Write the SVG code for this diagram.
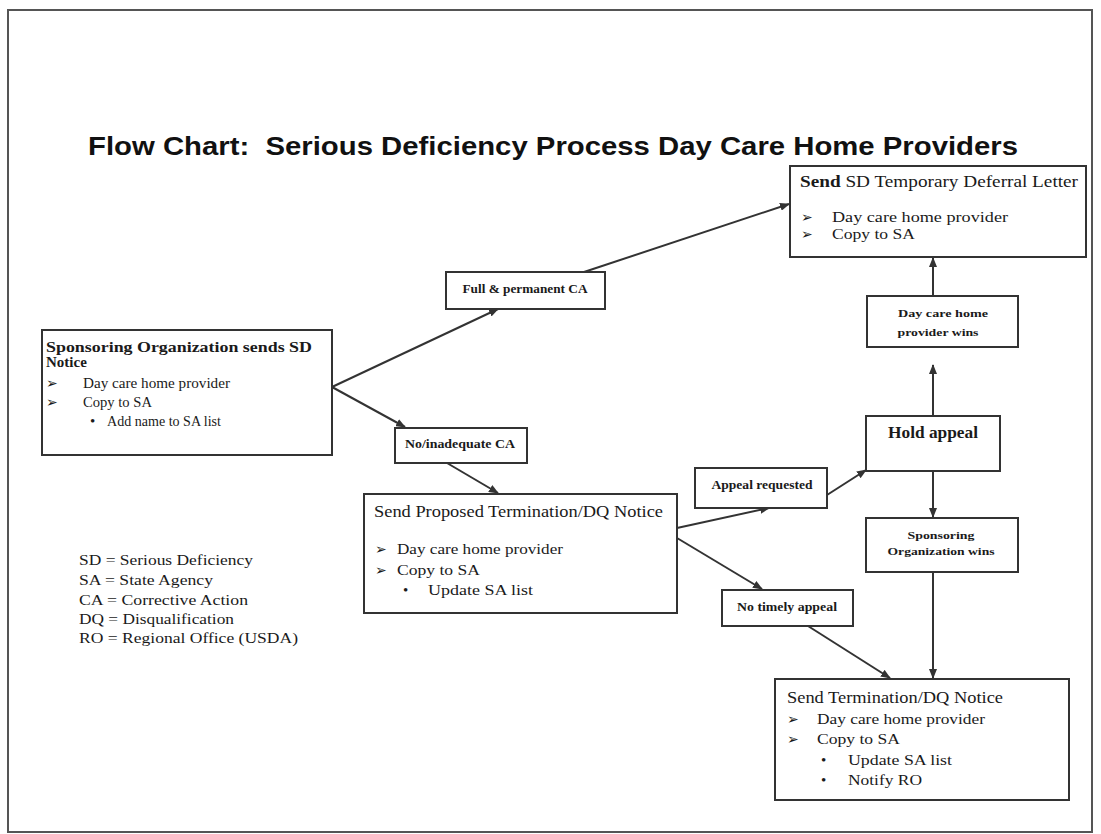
<svg xmlns="http://www.w3.org/2000/svg" width="1101" height="834" viewBox="0 0 1101 834">
<style>
.bg{fill:#fff}
.frame{fill:none;stroke:#555;stroke-width:2}
.box{fill:#fff;stroke:#333;stroke-width:2}
.t{font-family:"Liberation Serif",serif;fill:#1a1a1a;font-size:15px}
.b{font-weight:bold}
.h{font-size:16px}
.s{font-size:12px;font-weight:bold}
.xs{font-size:11px;font-weight:bold}
.sym{font-family:"DejaVu Sans",sans-serif;font-size:14px;fill:#1a1a1a}
.title{font-family:"Liberation Sans",Arial,sans-serif;font-weight:bold;font-size:25px;fill:#111;white-space:pre}
.conn line{stroke:#333;stroke-width:2;marker-end:url(#ah)}
</style>
<defs>
<marker id="ah" markerWidth="10" markerHeight="8" refX="9" refY="4" orient="auto" markerUnits="userSpaceOnUse">
<path d="M0,0 L10,4 L0,8 z" fill="#333"/>
</marker>
</defs>
<rect class="bg" x="0" y="0" width="1101" height="834"/>
<rect class="frame" x="8" y="10" width="1084" height="822"/>
<text class="title" x="88" y="155" textLength="930" lengthAdjust="spacingAndGlyphs">Flow Chart:  Serious Deficiency Process Day Care Home Providers</text>

<g id="connectors" class="conn">
<line x1="332" y1="387" x2="498" y2="309"/>
<line x1="584" y1="272" x2="789" y2="204"/>
<line x1="332" y1="387" x2="405" y2="427"/>
<line x1="447" y1="463" x2="498" y2="493"/>
<line x1="677" y1="528" x2="769" y2="508"/>
<line x1="827" y1="495" x2="866" y2="470"/>
<line x1="677" y1="538" x2="762" y2="589"/>
<line x1="808" y1="626" x2="890" y2="678"/>
<line x1="933" y1="416" x2="933" y2="365"/>
<line x1="933" y1="296" x2="933" y2="258"/>
<line x1="933" y1="471" x2="933" y2="517"/>
<line x1="933" y1="572" x2="933" y2="678"/>
</g>

<g id="sponsor-sends">
<rect class="box" x="42" y="330" width="290" height="125"/>
<text class="t b" x="46" y="352" textLength="266" lengthAdjust="spacingAndGlyphs">Sponsoring Organization sends SD</text>
<text class="t b" x="46" y="367">Notice</text>
<text class="sym" x="46" y="388">➢</text>
<text class="t" x="83" y="388" textLength="147" lengthAdjust="spacingAndGlyphs">Day care home provider</text>
<text class="sym" x="46" y="407">➢</text>
<text class="t" x="83" y="407" textLength="69" lengthAdjust="spacingAndGlyphs">Copy to SA</text>
<text class="t" x="90" y="426">•</text>
<text class="t" x="107" y="426" textLength="114" lengthAdjust="spacingAndGlyphs">Add name to SA list</text>
</g>

<g id="full-ca">
<rect class="box" x="446" y="272" width="159" height="37"/>
<text class="t s" x="525" y="293" text-anchor="middle" textLength="125" lengthAdjust="spacingAndGlyphs">Full &amp; permanent CA</text>
</g>

<g id="no-ca">
<rect class="box" x="395" y="428" width="132" height="35"/>
<text class="t s" x="460" y="448" text-anchor="middle" textLength="110" lengthAdjust="spacingAndGlyphs">No/inadequate CA</text>
</g>

<g id="deferral">
<rect class="box" x="790" y="166" width="296" height="91"/>
<text class="t h" x="800" y="187" textLength="278" lengthAdjust="spacingAndGlyphs"><tspan font-weight="bold">Send</tspan> SD Temporary Deferral Letter</text>
<text class="sym" x="801" y="222">➢</text>
<text class="t" x="832" y="222" textLength="176" lengthAdjust="spacingAndGlyphs">Day care home provider</text>
<text class="sym" x="801" y="239">➢</text>
<text class="t" x="832" y="239" textLength="83" lengthAdjust="spacingAndGlyphs">Copy to SA</text>
</g>

<g id="provider-wins">
<rect class="box" x="867" y="296" width="151" height="51"/>
<text class="t xs" x="943" y="317" text-anchor="middle" textLength="90" lengthAdjust="spacingAndGlyphs">Day care home</text>
<text class="t xs" x="938" y="336" text-anchor="middle" textLength="81" lengthAdjust="spacingAndGlyphs">provider wins</text>
</g>

<g id="hold-appeal">
<rect class="box" x="866" y="416" width="134" height="55"/>
<text class="t b h" x="933" y="438" text-anchor="middle" textLength="90" lengthAdjust="spacingAndGlyphs">Hold appeal</text>
</g>

<g id="sponsor-wins">
<rect class="box" x="866" y="518" width="152" height="54"/>
<text class="t xs" x="941" y="539" text-anchor="middle" textLength="67" lengthAdjust="spacingAndGlyphs">Sponsoring</text>
<text class="t xs" x="941" y="555" text-anchor="middle" textLength="107" lengthAdjust="spacingAndGlyphs">Organization wins</text>
</g>

<g id="proposed">
<rect class="box" x="364" y="494" width="313" height="119"/>
<text class="t h" x="374" y="517" textLength="289" lengthAdjust="spacingAndGlyphs">Send Proposed Termination/DQ Notice</text>
<text class="sym" x="375" y="554">➢</text>
<text class="t" x="397" y="554" textLength="166" lengthAdjust="spacingAndGlyphs">Day care home provider</text>
<text class="sym" x="375" y="575">➢</text>
<text class="t" x="397" y="575" textLength="83" lengthAdjust="spacingAndGlyphs">Copy to SA</text>
<text class="t" x="403" y="595">•</text>
<text class="t" x="428" y="595" textLength="105" lengthAdjust="spacingAndGlyphs">Update SA list</text>
</g>

<g id="appeal-requested">
<rect class="box" x="695" y="468" width="132" height="40"/>
<text class="t s" x="762" y="489" text-anchor="middle" textLength="101" lengthAdjust="spacingAndGlyphs">Appeal requested</text>
</g>

<g id="no-timely">
<rect class="box" x="722" y="590" width="131" height="36"/>
<text class="t s" x="787" y="611" text-anchor="middle" textLength="100" lengthAdjust="spacingAndGlyphs">No timely appeal</text>
</g>

<g id="termination">
<rect class="box" x="775" y="679" width="294" height="121"/>
<text class="t h" x="787" y="703" textLength="216" lengthAdjust="spacingAndGlyphs">Send Termination/DQ Notice</text>
<text class="sym" x="787" y="724">➢</text>
<text class="t" x="817" y="724" textLength="168" lengthAdjust="spacingAndGlyphs">Day care home provider</text>
<text class="sym" x="787" y="744">➢</text>
<text class="t" x="817" y="744" textLength="83" lengthAdjust="spacingAndGlyphs">Copy to SA</text>
<text class="t" x="821" y="765">•</text>
<text class="t" x="848" y="765" textLength="104" lengthAdjust="spacingAndGlyphs">Update SA list</text>
<text class="t" x="821" y="785">•</text>
<text class="t" x="848" y="785" textLength="74" lengthAdjust="spacingAndGlyphs">Notify RO</text>
</g>

<g id="legend">
<text class="t" x="79" y="565" textLength="174" lengthAdjust="spacingAndGlyphs">SD = Serious Deficiency</text>
<text class="t" x="79" y="585" textLength="134" lengthAdjust="spacingAndGlyphs">SA = State Agency</text>
<text class="t" x="79" y="605" textLength="169" lengthAdjust="spacingAndGlyphs">CA = Corrective Action</text>
<text class="t" x="79" y="624" textLength="155" lengthAdjust="spacingAndGlyphs">DQ = Disqualification</text>
<text class="t" x="79" y="643" textLength="219" lengthAdjust="spacingAndGlyphs">RO = Regional Office (USDA)</text>
</g>
</svg>
